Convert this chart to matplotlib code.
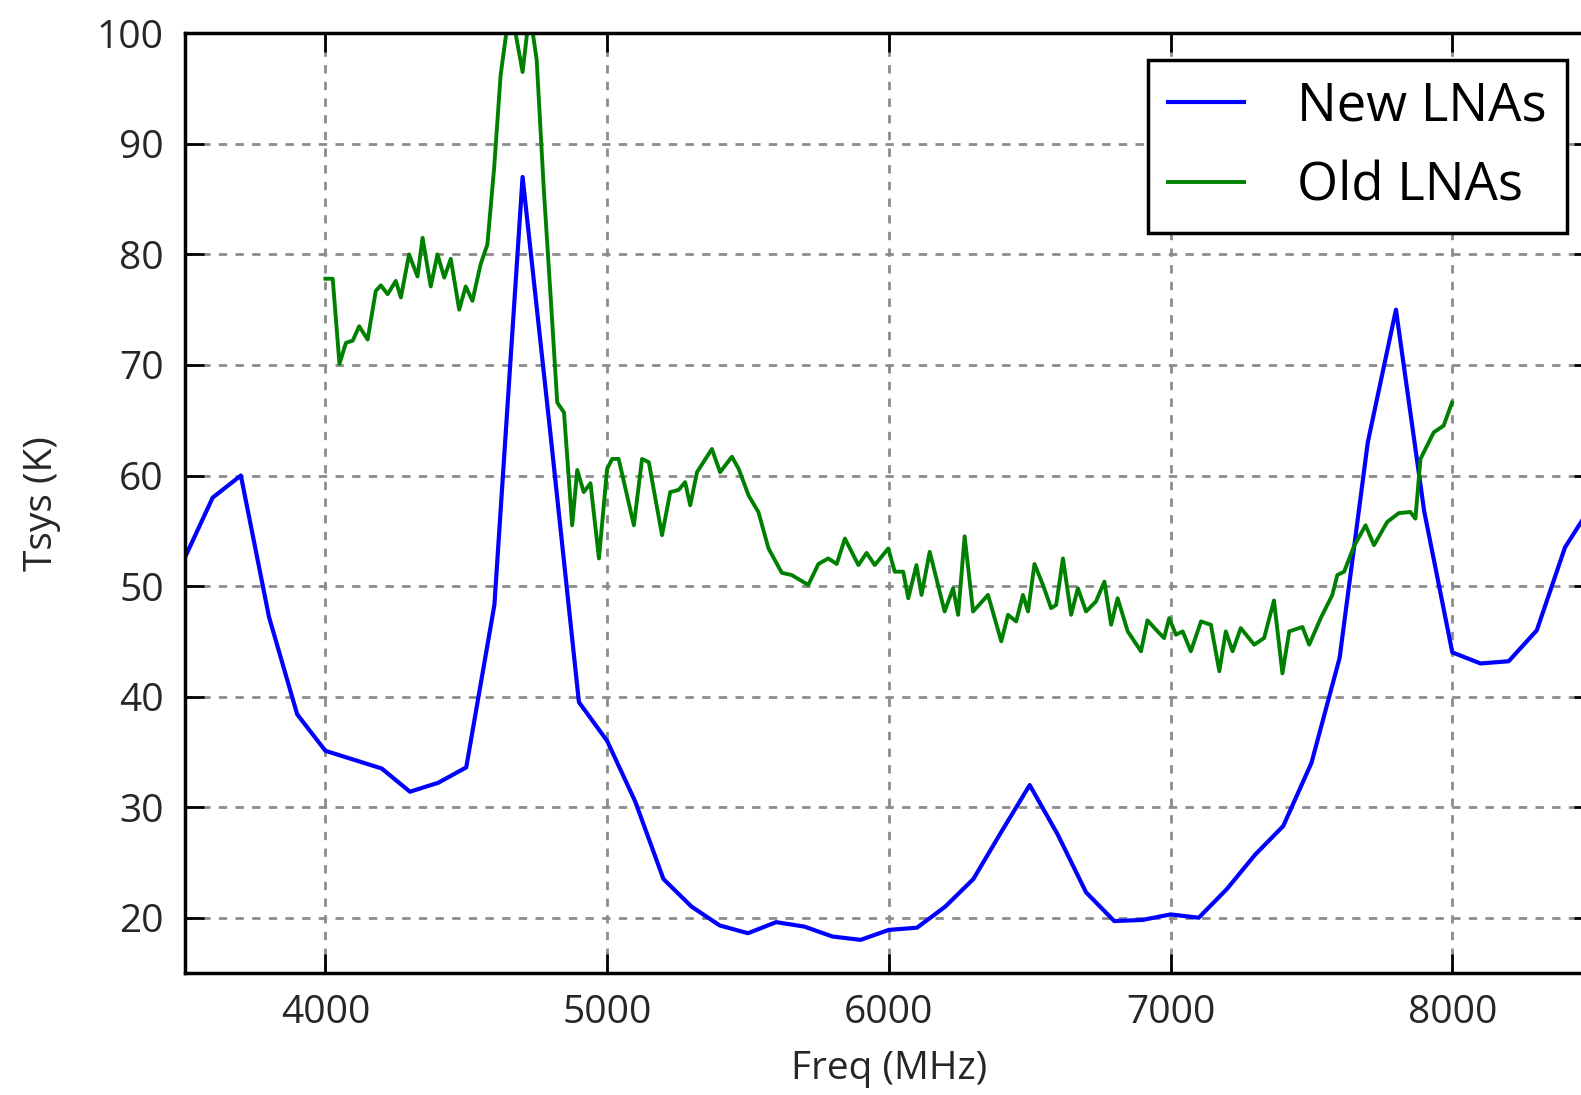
import matplotlib
matplotlib.use('Agg')
import matplotlib.pyplot as plt

# New LNAs, sampled every 100 MHz
new_freq = [3500, 3600, 3700, 3800, 3900, 4000, 4100, 4200, 4300, 4400,
            4500, 4600, 4700, 4800, 4900, 5000, 5100, 5200, 5300, 5400,
            5500, 5600, 5700, 5800, 5900, 6000, 6100, 6200, 6300, 6400,
            6500, 6600, 6700, 6800, 6900, 7000, 7100, 7200, 7300, 7400,
            7500, 7600, 7700, 7800, 7900, 8000, 8100, 8200, 8300, 8400, 8500]
new_tsys = [52.5, 58.0, 60.0, 47.2, 38.4, 35.1, 34.3, 33.5, 31.4, 32.2,
            33.6, 48.3, 87.0, 63.5, 39.5, 36.0, 30.5, 23.5, 21.0, 19.3,
            18.6, 19.6, 19.2, 18.3, 18.0, 18.9, 19.1, 21.0, 23.5, 27.8,
            32.0, 27.5, 22.3, 19.7, 19.8, 20.3, 20.0, 22.6, 25.7, 28.3,
            34.0, 43.5, 63.0, 75.0, 56.8, 44.0, 43.0, 43.2, 46.0, 53.5, 57.5]

# Old LNAs
old_freq = [4000, 4026, 4050, 4073, 4097, 4120, 4150, 4179, 4197, 4221,
            4250, 4268, 4297, 4327, 4345, 4374, 4398, 4422, 4445, 4475,
            4498, 4522, 4551, 4575, 4599, 4622, 4650, 4675, 4700, 4725,
            4750, 4775, 4800, 4823, 4847, 4876, 4894, 4917, 4941, 4971,
            5000, 5018, 5041, 5095, 5124, 5148, 5195, 5224, 5254, 5277,
            5295, 5319, 5372, 5401, 5443, 5467, 5502, 5537, 5573, 5620,
            5655, 5714, 5750, 5785, 5815, 5844, 5892, 5921, 5950, 5998,
            6021, 6051, 6069, 6098, 6116, 6145, 6198, 6228, 6246, 6269,
            6299, 6352, 6399, 6423, 6452, 6476, 6494, 6517, 6547, 6576,
            6594, 6618, 6647, 6671, 6700, 6735, 6765, 6789, 6812, 6848,
            6895, 6918, 6954, 6977, 6995, 7019, 7043, 7072, 7108, 7143,
            7173, 7196, 7220, 7249, 7297, 7332, 7367, 7397, 7421, 7468,
            7492, 7533, 7574, 7592, 7616, 7651, 7692, 7722, 7769, 7810,
            7851, 7869, 7887, 7934, 7969, 7999]
old_tsys = [77.8, 77.8, 70.1, 72.0, 72.2, 73.5, 72.3, 76.7, 77.2, 76.4,
            77.6, 76.1, 80.0, 78.0, 81.5, 77.1, 80.0, 77.9, 79.6, 75.0,
            77.1, 75.8, 79.1, 80.9, 87.8, 96.2, 101.5, 100.0, 96.5, 102.0,
            97.6, 86.0, 76.0, 66.6, 65.7, 55.5, 60.5, 58.5, 59.3, 52.5,
            60.6, 61.5, 61.5, 55.5, 61.5, 61.2, 54.6, 58.5, 58.7, 59.4,
            57.3, 60.3, 62.4, 60.3, 61.7, 60.6, 58.2, 56.7, 53.4, 51.2,
            51.0, 50.1, 52.0, 52.5, 52.0, 54.3, 51.9, 53.0, 51.9, 53.4,
            51.3, 51.3, 48.9, 51.9, 49.2, 53.1, 47.7, 49.8, 47.4, 54.5,
            47.7, 49.2, 45.0, 47.4, 46.8, 49.2, 47.7, 52.0, 50.1, 48.0,
            48.3, 52.5, 47.4, 49.8, 47.7, 48.6, 50.4, 46.5, 48.9, 45.9,
            44.1, 46.9, 45.9, 45.3, 47.1, 45.6, 45.9, 44.1, 46.8, 46.5,
            42.3, 45.9, 44.1, 46.2, 44.7, 45.3, 48.7, 42.1, 45.9, 46.3,
            44.7, 47.1, 49.2, 51.0, 51.3, 53.6, 55.5, 53.7, 55.8, 56.6,
            56.7, 56.1, 61.5, 63.9, 64.5, 66.6]

x_ticks = [4000, 5000, 6000, 7000, 8000]
y_ticks = [20, 30, 40, 50, 60, 70, 80, 90, 100]

plt.rcParams['font.family'] = ['Open Sans', 'DejaVu Sans']

fig = plt.figure(figsize=(15.81, 10.95), dpi=100)
# right edge of the axes sits just outside the saved image, as in the source
ax = fig.add_axes([0.1167, 0.1114, 0.891, 0.8582])

ax.plot(new_freq, new_tsys, color='b', lw=3, label='New LNAs')
ax.plot(old_freq, old_tsys, color='g', lw=2.8, label='Old LNAs')

ax.set_xlim(3500, 8500)
ax.set_ylim(15, 100)
ax.set_xticks(x_ticks)
ax.set_yticks(y_ticks)

ax.grid(True, color='0.55', linestyle=(0, (3, 3)), lw=2)
for s in ax.spines.values():
    s.set_linewidth(2.5)
ax.tick_params(direction='in', length=14, width=2, labelsize=28, pad=15,
               top=True, right=True)

ax.set_xlabel('Freq (MHz)', fontsize=28, labelpad=13, color='0.15')
ax.set_ylabel('Tsys (K)', fontsize=28, labelpad=26, color='0.15')
for lab in ax.get_xticklabels() + ax.get_yticklabels():
    lab.set_color('0.15')

leg = ax.legend(loc='upper right', fontsize=38, fancybox=False,
                framealpha=1, edgecolor='black', handlelength=1.45,
                handletextpad=1.0, labelspacing=0.5, borderpad=0.38,
                borderaxespad=0.5)
leg.get_frame().set_linewidth(2.5)

plt.savefig('out.png', dpi=100)
